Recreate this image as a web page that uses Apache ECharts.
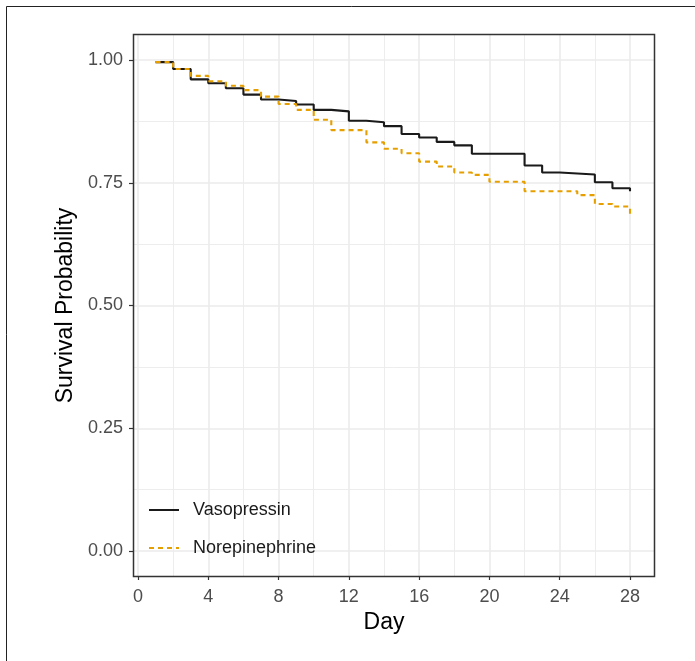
<!DOCTYPE html>
<html>
<head>
<meta charset="utf-8">
<script src="https://cdn.jsdelivr.net/npm/echarts@6/dist/echarts.min.js"></script>
<style>
  html, body { margin: 0; padding: 0; background: #fff; }
  #chart { width: 695px; height: 661px; }
</style>
</head>
<body>
<div id="chart"></div>
<script>
// Kaplan-Meier steps: [day, survival]
const vasopressin = [
  [1, 0.993], [2, 0.979], [3, 0.958], [4, 0.950], [5, 0.940], [6, 0.927],
  [7, 0.917], [8, 0.914], [9, 0.907], [10, 0.896], [11, 0.893], [12, 0.874],
  [13, 0.871], [14, 0.863], [15, 0.847], [16, 0.840], [17, 0.831], [18, 0.824],
  [19, 0.807], [22, 0.783], [23, 0.769], [24, 0.765], [26, 0.749], [27, 0.737],
  [28, 0.731]
];
const norepinephrine = [
  [1, 0.993], [2, 0.979], [3, 0.965], [4, 0.954], [5, 0.945], [6, 0.936],
  [7, 0.923], [8, 0.908], [9, 0.896], [10, 0.876], [11, 0.855], [13, 0.830],
  [14, 0.817], [15, 0.808], [16, 0.791], [17, 0.781], [18, 0.769], [19, 0.764],
  [20, 0.750], [22, 0.731], [25, 0.723], [26, 0.705], [27, 0.700], [28, 0.681]
];
const seriesNames = ['Vasopressin', 'Norepinephrine'];
const xTicks = [0, 28, 4];      // min, max, step
const yTicks = [0, 1, 0.25];

const FONT = '"Liberation Sans", Arial, sans-serif';
const gridColor = '#EBEBEB';

const chart = echarts.init(document.getElementById('chart'));

const option = {
  backgroundColor: '#fff',
  animation: false,
  textStyle: { fontFamily: FONT },
  grid: [
    // x range 0..28 inside the panel, full panel height
    { left: 138, top: 34, width: 492, height: 542 },
    // y range 0..1, full panel width
    { left: 133, top: 60, width: 521, height: 491 }
  ],
  xAxis: [
    {
      gridIndex: 0,
      type: 'value',
      position: 'bottom',
      min: xTicks[0], max: xTicks[1], interval: xTicks[2],
      name: 'Day',
      nameLocation: 'middle',
      nameGap: 35,
      nameTextStyle: { color: '#000', fontSize: 23, fontFamily: FONT },
      axisLine: { show: false, onZero: false },
      axisTick: { show: true, length: 4, lineStyle: { color: '#333', width: 1.2 } },
      axisLabel: { color: '#4D4D4D', fontSize: 18, margin: 12, fontFamily: FONT },
      splitLine: { show: true, lineStyle: { color: gridColor, width: 1.6 } },
      minorTick: { show: false, splitNumber: 2 },
      minorSplitLine: { show: true, lineStyle: { color: gridColor, width: 0.9 } }
    },
    {
      gridIndex: 1,
      type: 'value',
      min: 0, max: 1,
      show: false
    }
  ],
  yAxis: [
    {
      gridIndex: 0,
      type: 'value',
      min: -0.05, max: 1.05,
      show: false
    },
    {
      gridIndex: 1,
      type: 'value',
      position: 'left',
      min: yTicks[0], max: yTicks[1], interval: yTicks[2],
      name: 'Survival Probability',
      nameLocation: 'middle',
      nameGap: 46,
      nameTextStyle: { color: '#000', fontSize: 23, fontFamily: FONT, padding: [6, 0, 0, 0] },
      axisLine: { show: false, onZero: false },
      axisTick: { show: true, length: 4, lineStyle: { color: '#333', width: 1.2 } },
      axisLabel: {
        color: '#4D4D4D', fontSize: 18, margin: 10, fontFamily: FONT,
        formatter: (v) => v.toFixed(2)
      },
      splitLine: { show: true, lineStyle: { color: gridColor, width: 1.6 } },
      minorTick: { show: false, splitNumber: 2 },
      minorSplitLine: { show: true, lineStyle: { color: gridColor, width: 0.9 } }
    }
  ],
  legend: {
    orient: 'vertical',
    left: 148,
    top: 501,
    padding: 0,
    itemWidth: 30,
    itemHeight: 18,
    itemGap: 20,
    data: seriesNames,
    itemStyle: { opacity: 0 },
    textStyle: { color: '#1A1A1A', fontSize: 18, fontFamily: FONT, padding: [0, 0, 0, 9] }
  },
  series: [
    {
      name: seriesNames[0],
      type: 'line',
      xAxisIndex: 0, yAxisIndex: 0,
      step: 'end',
      symbol: 'none',
      lineStyle: { color: '#1A1A1A', width: 2.1 },
      itemStyle: { color: '#1A1A1A' },
      data: vasopressin
    },
    {
      name: seriesNames[1],
      type: 'line',
      xAxisIndex: 0, yAxisIndex: 0,
      step: 'end',
      symbol: 'none',
      lineStyle: { color: '#E69F00', width: 2.1, type: [5, 4] },
      itemStyle: { color: '#E69F00' },
      data: norepinephrine
    }
  ],
  graphic: [
    {
      type: 'rect',
      z: 100,
      shape: { x: 133.5, y: 34.5, width: 521, height: 542 },
      style: { fill: 'none', stroke: '#333', lineWidth: 1.5 }
    },
    {
      type: 'rect',
      z: 100,
      shape: { x: 6.5, y: 6.5, width: 900, height: 900 },
      style: { fill: 'none', stroke: '#222', lineWidth: 1 }
    }
  ]
};

chart.setOption(option);
</script>
</body>
</html>
